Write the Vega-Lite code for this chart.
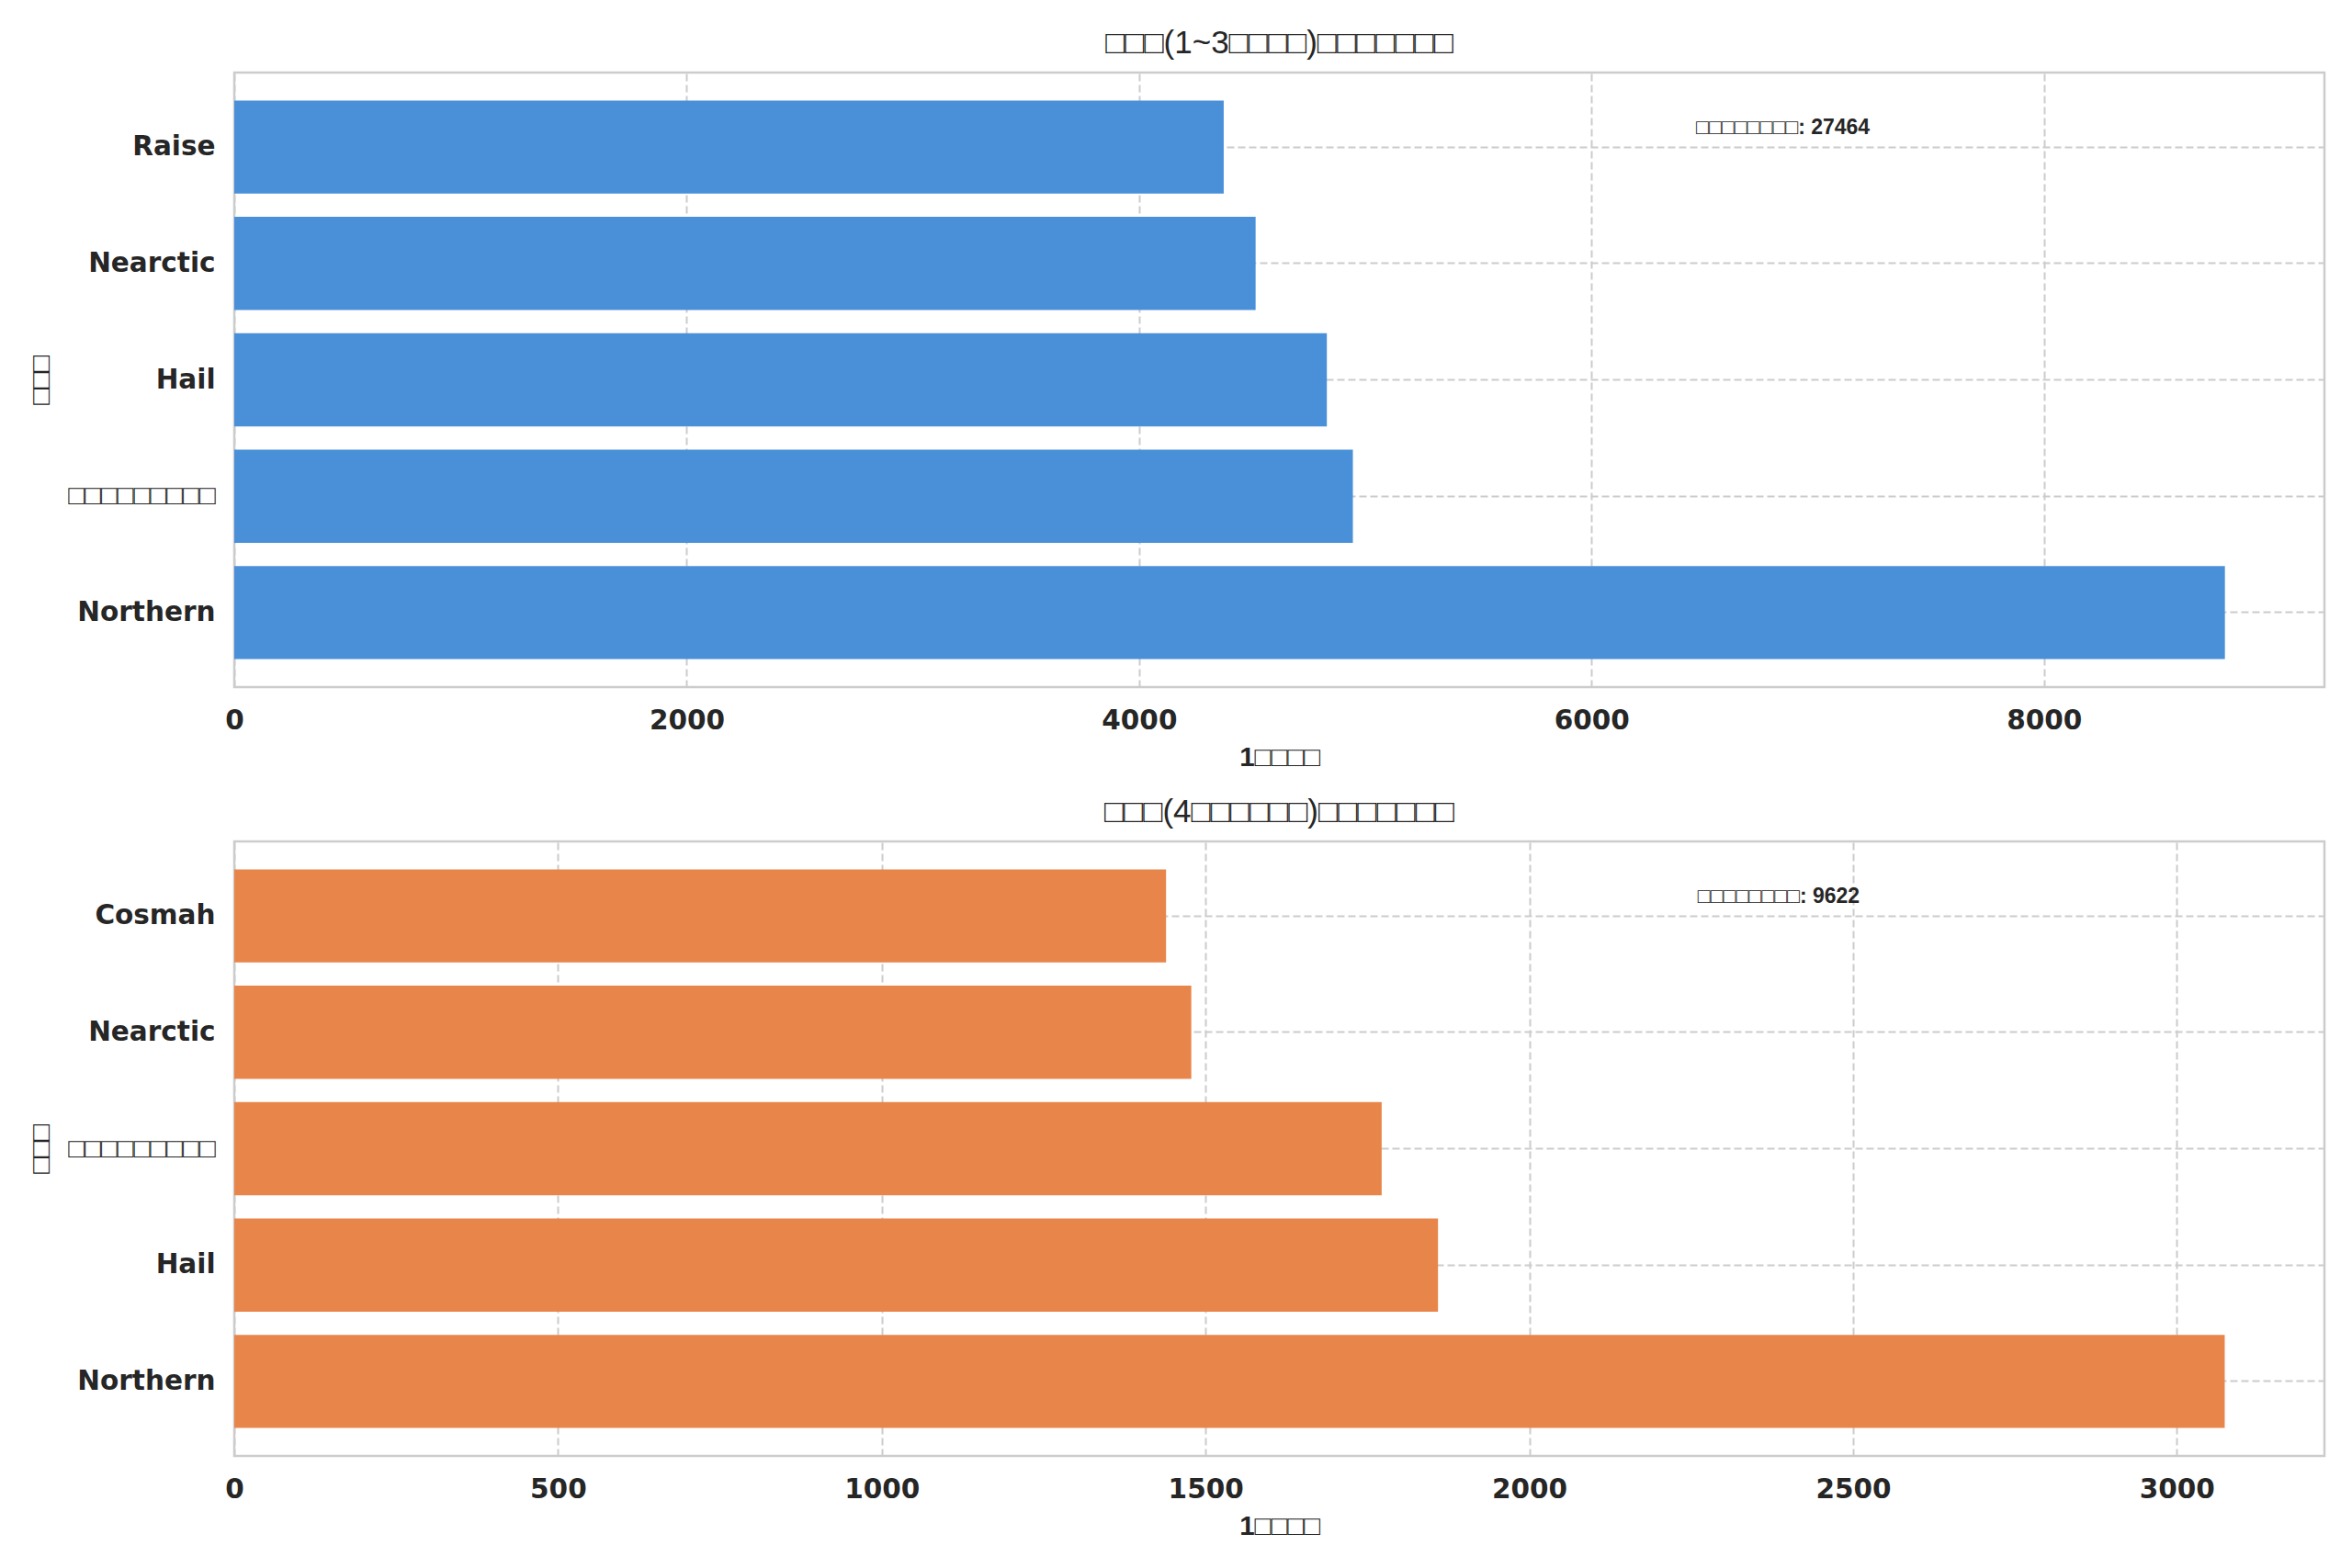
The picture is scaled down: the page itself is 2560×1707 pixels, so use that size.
{
  "$schema": "https://vega.github.io/schema/vega-lite/v6.json",
  "background": "white",
  "padding": {"left": 28, "top": 28, "right": 5, "bottom": 5},
  "config": {
    "font": "DejaVu Sans",
    "view": {"stroke": "#cccccc", "strokeWidth": 2.5},
    "axis": {
      "labelFontSize": 29.5,
      "labelFontWeight": "bold",
      "labelColor": "#262626",
      "labelLimit": 500,
      "titleFontSize": 29.5,
      "titleFontWeight": "bold",
      "titleColor": "#262626",
      "titleFont": "Liberation Sans",
      "grid": true,
      "gridColor": "#cccccc",
      "gridDash": [8, 4],
      "gridWidth": 2,
      "ticks": false,
      "domain": false
    },
    "axisY": {
      "labelPadding": 21,
      "bandPosition": 0.5,
      "titlePadding": 14,
      "titleFontWeight": "normal",
      "labelFont": {"condition": {"test": "indexof(datum.label, '□') >= 0", "value": "Liberation Sans"}, "value": "DejaVu Sans"},
      "labelFontWeight": {"condition": {"test": "indexof(datum.label, '□') >= 0", "value": "normal"}, "value": "bold"}
    },
    "axisX": {"labelPadding": 22, "titlePadding": 12, "format": "d", "labelFlush": false},
    "title": {"font": "Liberation Sans", "fontSize": 35, "fontWeight": "normal", "color": "#262626", "offset": 14}
  },
  "datasets": {
    "small": [
      {"region": "Northern", "count": 8800},
      {"region": "□□□□□□□□□", "count": 4945},
      {"region": "Hail", "count": 4830},
      {"region": "Nearctic", "count": 4515},
      {"region": "Raise", "count": 4374}
    ],
    "large": [
      {"region": "Northern", "count": 3074},
      {"region": "Hail", "count": 1859},
      {"region": "□□□□□□□□□", "count": 1772},
      {"region": "Nearctic", "count": 1478},
      {"region": "Cosmah", "count": 1439}
    ]
  },
  "spacing": 24,
  "resolve": {"scale": {"x": "independent", "y": "independent"}},
  "vconcat": [
    {
      "title": "□□□(1~3□□□□)□□□□□□□",
      "width": 2275,
      "height": 669,
      "layer": [
        {
          "data": {"name": "small"},
          "mark": {"type": "bar", "color": "#4a90d9"},
          "encoding": {
            "y": {
              "field": "region",
              "type": "nominal",
              "title": "□□□",
              "scale": {"domain": ["Raise", "Nearctic", "Hail", "□□□□□□□□□", "Northern"], "paddingInner": 0.2, "paddingOuter": 0.24}
            },
            "x": {
              "field": "count",
              "type": "quantitative",
              "title": "1□□□□",
              "scale": {"domain": [0, 9240], "nice": false},
              "axis": {"values": [0, 2000, 4000, 6000, 8000]}
            }
          }
        },
        {
          "data": {"values": [{}]},
          "mark": {"type": "text", "align": "left", "baseline": "middle", "dy": -21, "font": "Liberation Sans", "fontSize": 23, "fontWeight": "bold", "color": "#262626"},
          "encoding": {
            "x": {"datum": 6462, "type": "quantitative"},
            "y": {"datum": "Raise", "type": "nominal"},
            "text": {"value": "□□□□□□□□: 27464"}
          }
        }
      ]
    },
    {
      "title": "□□□(4□□□□□□)□□□□□□□",
      "width": 2275,
      "height": 669,
      "layer": [
        {
          "data": {"name": "large"},
          "mark": {"type": "bar", "color": "#e8854a"},
          "encoding": {
            "y": {
              "field": "region",
              "type": "nominal",
              "title": "□□□",
              "scale": {"domain": ["Cosmah", "Nearctic", "□□□□□□□□□", "Hail", "Northern"], "paddingInner": 0.2, "paddingOuter": 0.24}
            },
            "x": {
              "field": "count",
              "type": "quantitative",
              "title": "1□□□□",
              "scale": {"domain": [0, 3228], "nice": false},
              "axis": {"values": [0, 500, 1000, 1500, 2000, 2500, 3000]}
            }
          }
        },
        {
          "data": {"values": [{}]},
          "mark": {"type": "text", "align": "left", "baseline": "middle", "dy": -21, "font": "Liberation Sans", "fontSize": 23, "fontWeight": "bold", "color": "#262626"},
          "encoding": {
            "x": {"datum": 2260, "type": "quantitative"},
            "y": {"datum": "Cosmah", "type": "nominal"},
            "text": {"value": "□□□□□□□□: 9622"}
          }
        }
      ]
    }
  ]
}
